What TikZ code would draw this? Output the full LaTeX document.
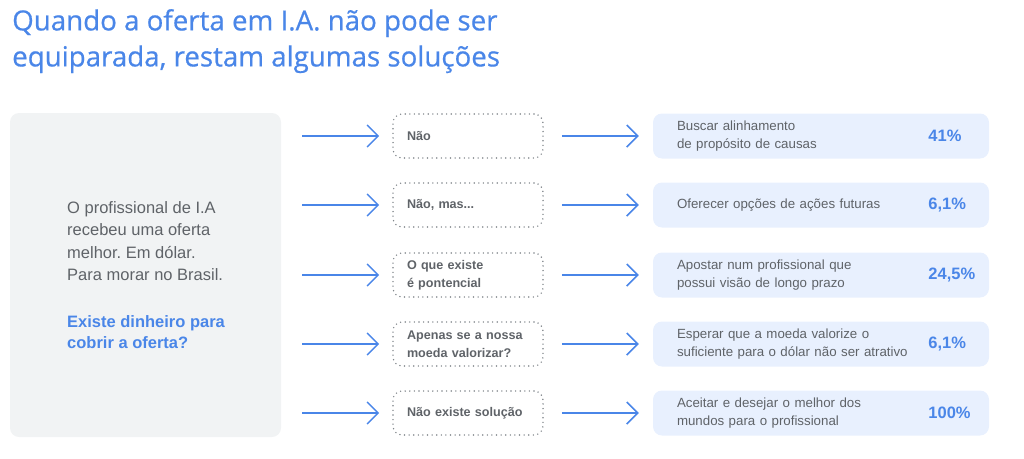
\documentclass[tikz,border=0pt]{standalone}
\usepackage{fontspec}
\setmainfont{Liberation Sans}
\newfontfamily\titlefont[FakeBold=0.6]{Open Sans}
\usetikzlibrary{arrows.meta,positioning}
\definecolor{gblue}{HTML}{4A86E8}
\definecolor{ink}{HTML}{5F6368}
\definecolor{dotgray}{HTML}{80868B}
\definecolor{panelgray}{HTML}{F1F3F4}
\definecolor{resultblue}{HTML}{E8F0FE}
\frenchspacing

\begin{document}
\begin{tikzpicture}[x=1pt, y=-1pt,
  >={Straight Barb[length=11pt,width=22pt]},
  arr/.style={->, gblue, line width=1.5pt},
  answer/.style={draw=dotgray, line width=1.6pt, line cap=round,
    dash pattern=on 0pt off 4.6pt, rounded corners=9pt,
    minimum height=44pt, text width=122pt, inner xsep=14pt, align=left,
    text=ink, font=\bfseries\fontsize{12.6}{18}\selectfont},
  result/.style={fill=resultblue, rounded corners=9pt, minimum height=45pt,
    text width=288pt, inner xsep=24pt, align=left, text=ink,
    font=\fontsize{13.3}{18}\selectfont},
  pct/.style={anchor=west, inner sep=0pt, text=gblue,
    font=\bfseries\fontsize{16.5}{18}\selectfont}]
  \useasboundingbox (0,0) rectangle (1024,458);
  % title
  \node[anchor=north west, inner sep=0pt, align=left, text=gblue,
    font=\titlefont\fontsize{27.7}{36}\selectfont] (title) at (12,9)
    {Quando a oferta em I.A. não pode ser\\equiparada, restam algumas soluções};
  % left panel
  \node[fill=panelgray, rounded corners=9pt, minimum width=271pt,
    minimum height=324pt] (panel) at (145.5,275) {};
  \node[anchor=north west, inner sep=0pt, align=left, text=ink,
    font=\fontsize{16.5}{22.5}\selectfont] (story) at (67,201)
    {O profissional de I.A\\recebeu uma oferta\\melhor. Em dólar.\\Para morar no Brasil.};
  \node[anchor=north west, inner sep=0pt, align=left, text=gblue,
    font=\bfseries\fontsize{16.5}{21.5}\selectfont] (ask) at (67,315)
    {Existe dinheiro para\\cobrir a oferta?};
  % answers
  \node[answer] (q1) at (468,136) {Não};
  \node[answer] (q2) at (468,205) {Não, mas...};
  \node[answer] (q3) at (468,275) {O que existe\\é pontencial};
  \node[answer] (q4) at (468,344) {Apenas se a nossa\\moeda valorizar?};
  \node[answer] (q5) at (468,413) {Não existe solução};
  % solutions
  \node[result] (r1) at (821,136) {Buscar alinhamento\\de propósito de causas};
  \node[result] (r2) at (821,205) {Oferecer opções de ações futuras};
  \node[result] (r3) at (821,275) {Apostar num profissional que\\possui visão de longo prazo};
  \node[result] (r4) at (821,344) {Esperar que a moeda valorize o\\suficiente para o dólar não ser atrativo};
  \node[result] (r5) at (821,413) {Aceitar e desejar o melhor dos\\mundos para o profissional};
  \node[pct] (p1) at ([xshift=-61pt]r1.east) {41\%};
  \node[pct] (p2) at ([xshift=-61pt]r2.east) {6,1\%};
  \node[pct] (p3) at ([xshift=-61pt]r3.east) {24,5\%};
  \node[pct] (p4) at ([xshift=-61pt]r4.east) {6,1\%};
  \node[pct] (p5) at ([xshift=-61pt]r5.east) {100\%};
  % arrows
  \foreach \i in {1,...,5} {
    \path (panel.east |- q\i.west) ++(21,0) coordinate (s\i);
    \draw[arr] (s\i) -- ([xshift=-13pt]q\i.west);
    \draw[arr] ([xshift=18pt]q\i.east) -- ([xshift=-14pt]r\i.west);
  }
\end{tikzpicture}
\end{document}
